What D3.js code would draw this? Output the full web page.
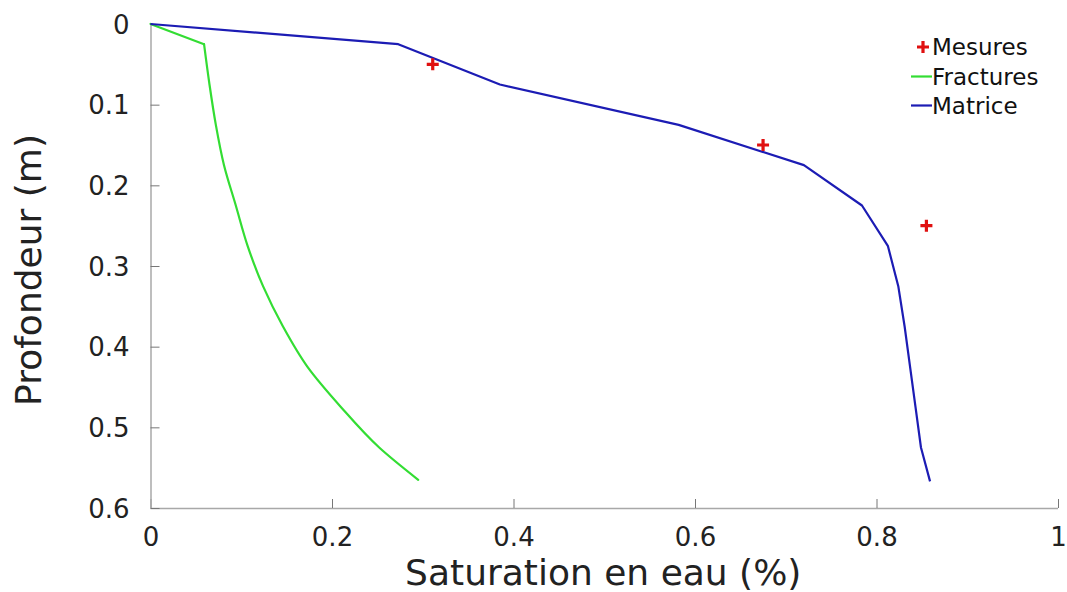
<!DOCTYPE html>
<html>
<head>
<meta charset="utf-8">
<script src="https://cdn.jsdelivr.net/npm/d3@7"></script>
<style>
  html, body { margin: 0; padding: 0; background: #fff; }
  svg { display: block; font-family: "DejaVu Sans", sans-serif; }
</style>
</head>
<body>
<svg id="chart" width="1067" height="592"></svg>
<script>
// ---- Data ----
const matriceDepth = [0, 0.025, 0.075, 0.125, 0.175, 0.225, 0.275, 0.325, 0.375, 0.425, 0.475, 0.525, 0.567];
const matriceSat   = [0, 0.273, 0.385, 0.582, 0.720, 0.784, 0.8125, 0.824, 0.831, 0.837, 0.843, 0.849, 0.859];

const fracturesDepth = [0, 0.025, 0.075, 0.125, 0.175, 0.225, 0.275, 0.325, 0.375, 0.425, 0.475, 0.525, 0.565];
const fracturesSat   = [0, 0.059, 0.065, 0.072, 0.081, 0.094, 0.107, 0.124, 0.146, 0.173, 0.210, 0.252, 0.295];

const mesuresDepth = [0.05, 0.15, 0.25];
const mesuresSat   = [0.311, 0.675, 0.855];

const xTicks = [0, 0.2, 0.4, 0.6, 0.8, 1];
const yTicks = [0, 0.1, 0.2, 0.3, 0.4, 0.5, 0.6];
const legendNames = ["Mesures", "Fractures", "Matrice"];

// ---- Layout ----
const svg = d3.select("#chart");
const mLeft = 150.5, mRight = 1058, mTop = 24, mBottom = 508;

const x = d3.scaleLinear().domain([0, 1]).range([mLeft, mRight]);
const y = d3.scaleLinear().domain([0, 0.6]).range([mTop, mBottom]);

const colMatrice = "#1c1cb4";
const colFractures = "#33dd33";
const colMesures = "#e01010";

// Axes
const xAxis = d3.axisBottom(x).tickValues(xTicks).tickSize(-9).tickPadding(20)
  .tickFormat(d => d === 0 ? "0" : d === 1 ? "1" : d3.format(".1f")(d));
const yAxis = d3.axisLeft(y).tickValues(yTicks).tickSize(-9).tickPadding(21)
  .tickFormat(d => d === 0 ? "0" : d3.format(".1f")(d));

const gx = svg.append("g").attr("transform", `translate(0,${mBottom})`).call(xAxis);
const gy = svg.append("g").attr("transform", `translate(${mLeft},0)`).call(yAxis);

[gx, gy].forEach(g => {
  g.select(".domain").attr("stroke", "#a8a8a8").attr("stroke-width", 1.5);
  g.selectAll(".tick line").attr("stroke", "#777").attr("stroke-width", 1);
  g.selectAll(".tick text").attr("fill", "#222").style("font-size", "26px")
    .style("font-family", "'DejaVu Sans', sans-serif");
});
gx.select(".domain").attr("d", `M${mLeft},0.5H${mRight}`);
gy.select(".domain").attr("d", `M0.5,${mTop}V${mBottom}`);
gx.selectAll(".tick text").attr("dy", "0.71em");
gy.selectAll(".tick text").attr("dy", "0.35em");

// Axis labels
svg.append("text")
  .attr("x", (mLeft + mRight) / 2 - 1)
  .attr("y", 585)
  .attr("text-anchor", "middle")
  .attr("fill", "#222")
  .style("font-size", "36px")
  .text("Saturation en eau (%)");

svg.append("text")
  .attr("transform", `translate(41,${(mTop + mBottom) / 2 + 4}) rotate(-90)`)
  .attr("text-anchor", "middle")
  .attr("fill", "#222")
  .style("font-size", "36px")
  .text("Profondeur (m)");

// Lines
const line = d3.line().x(d => x(d[0])).y(d => y(d[1]));
const smooth = d3.line().x(d => x(d[0])).y(d => y(d[1])).curve(d3.curveMonotoneY);

const fracPts = fracturesSat.map((s, i) => [s, fracturesDepth[i]]);
svg.append("path")
  .datum(fracPts.slice(0, 2))
  .attr("d", line)
  .attr("fill", "none")
  .attr("stroke", colFractures)
  .attr("stroke-width", 2.2)
  .attr("stroke-linecap", "round");
svg.append("path")
  .datum(fracPts.slice(1))
  .attr("d", smooth)
  .attr("fill", "none")
  .attr("stroke", colFractures)
  .attr("stroke-width", 2.2)
  .attr("stroke-linecap", "round");

svg.append("path")
  .datum(matriceSat.map((s, i) => [s, matriceDepth[i]]))
  .attr("d", line)
  .attr("fill", "none")
  .attr("stroke", colMatrice)
  .attr("stroke-width", 2.2)
  .attr("stroke-linejoin", "round");

// Measurement markers (+)
svg.append("g").selectAll("path.m")
  .data(mesuresSat.map((s, i) => [s, mesuresDepth[i]]))
  .join("path")
  .attr("transform", d => `translate(${x(d[0])},${y(d[1])})`)
  .attr("d", "M-6,0H6M0,-6V6")
  .attr("stroke", colMesures)
  .attr("stroke-width", 3.2)
  .attr("fill", "none");

// Legend
const legend = svg.append("g");
const legY = [47, 76.5, 105.5];
const legColors = [colMesures, colFractures, colMatrice];
legendNames.forEach((name, i) => {
  const g = legend.append("g").attr("transform", `translate(0,${legY[i]})`);
  if (i === 0) {
    g.append("path").attr("d", "M917,0H929M923,-6V6")
      .attr("stroke", colMesures).attr("stroke-width", 3.2).attr("fill", "none");
  } else {
    g.append("line").attr("x1", 911).attr("x2", 932).attr("y1", 0).attr("y2", 0)
      .attr("stroke", legColors[i]).attr("stroke-width", 2.2);
  }
  g.append("text").attr("x", 932).attr("y", 0).attr("dy", "0.36em")
    .attr("fill", "#111").style("font-size", "23px").text(name);
});
</script>
</body>
</html>
